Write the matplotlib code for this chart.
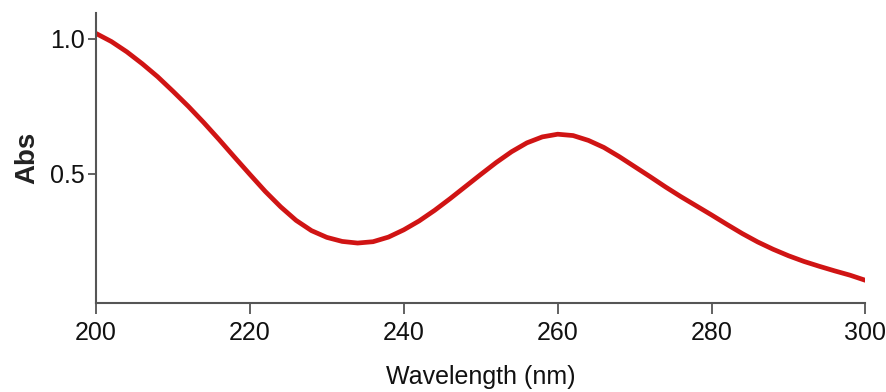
import matplotlib
matplotlib.use("Agg")
import matplotlib.pyplot as plt

# absorbance spectrum
wavelength = [200, 202, 204, 206, 208, 210, 212, 214, 216, 218,
              220, 222, 224, 226, 228, 230, 232, 234, 236, 238,
              240, 242, 244, 246, 248, 250, 252, 254, 256, 258,
              260, 262, 264, 266, 268, 270, 272, 274, 276, 278,
              280, 282, 284, 286, 288, 290, 292, 294, 296, 298, 300]
absorbance = [1.02, 0.99, 0.952, 0.908, 0.86, 0.806, 0.75, 0.69, 0.627, 0.562,
              0.498, 0.435, 0.378, 0.328, 0.29, 0.265, 0.25, 0.244, 0.249, 0.266,
              0.293, 0.326, 0.365, 0.408, 0.453, 0.498, 0.542, 0.582, 0.615, 0.637,
              0.647, 0.642, 0.624, 0.598, 0.564, 0.527, 0.49, 0.452, 0.416, 0.382,
              0.348, 0.313, 0.279, 0.248, 0.221, 0.197, 0.176, 0.158, 0.141, 0.125, 0.106]

x_ticks = [200, 220, 240, 260, 280, 300]
y_ticks = [0.5, 1.0]

plt.rcParams['font.family'] = ['Liberation Sans', 'DejaVu Sans']

fig = plt.figure(figsize=(8.86, 3.92), dpi=100)
ax = fig.add_axes([0.1084, 0.227, 0.8684, 0.740])

ax.plot(wavelength, absorbance, color='#d01414', lw=3.4, solid_capstyle='round')

ax.set_xlim(200, 300)
ax.set_ylim(0.022, 1.096)
ax.set_xticks(x_ticks)
ax.set_yticks(y_ticks)
ax.set_yticklabels(['0.5', '1.0'])

for side in ['top', 'right']:
    ax.spines[side].set_visible(False)
for side in ['left', 'bottom']:
    ax.spines[side].set_color('#555555')
    ax.spines[side].set_linewidth(1.5)

ax.tick_params(axis='x', direction='out', length=8, width=1.3, color='#555555',
               labelsize=18, pad=5, labelcolor='#111111')
ax.tick_params(axis='y', direction='out', length=6, width=1.3, color='#555555',
               labelsize=18, pad=2, labelcolor='#111111')

ax.set_xlabel('Wavelength (nm)', fontsize=18, color='#111111', labelpad=14)
ax.set_ylabel('Abs', fontsize=20, fontweight='bold', color='#222222', labelpad=7)

fig.savefig('out.png', dpi=100)
